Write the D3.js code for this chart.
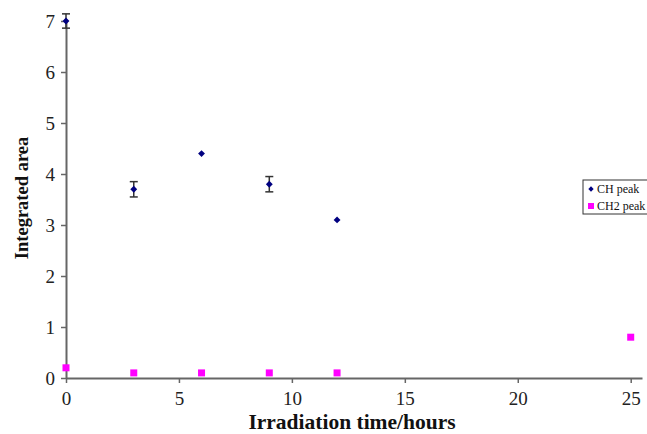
<!DOCTYPE html>
<html>
<head>
<meta charset="utf-8">
<script src="https://cdn.jsdelivr.net/npm/d3@7"></script>
<style>
  body { margin: 0; background: #fff; }
</style>
</head>
<body>
<div id="chart"></div>
<script>
const hours = [0, 3, 6, 9, 12]
const chValues = [7.0, 3.7, 4.4, 3.8, 3.1]
const chErrors = [0.14, 0.15, 0, 0.15, 0]
const ch2Hours = [0, 3, 6, 9, 12, 25]
const ch2Values = [0.2, 0.1, 0.1, 0.1, 0.1, 0.8]
const xTicks = [0, 5, 10, 15, 20, 25]
const yTicks = [0, 1, 2, 3, 4, 5, 6, 7]

const width = 647, height = 434
const SERIF = '"Liberation Serif", "Times New Roman", Times, serif'

const svg = d3.select('#chart').append('svg')
  .attr('width', width).attr('height', height)

const x = d3.scaleLinear().domain([0, 25.5]).range([66, 642])
const y = d3.scaleLinear().domain([0, 7]).range([378, 21])

const axisColor = '#666'

// axes
const xAxis = svg.append('g')
  .attr('transform', `translate(0,${y(0)})`)
  .call(d3.axisBottom(x).tickValues(xTicks).tickFormat(d3.format('d'))
    .tickSize(5).tickPadding(9).tickSizeOuter(0))
xAxis.select('.domain').attr('stroke', axisColor).attr('stroke-width', 2)
xAxis.selectAll('.tick line').attr('stroke', axisColor).attr('stroke-width', 1.5)

const yAxis = svg.append('g')
  .attr('transform', `translate(${x(0)},0)`)
  .call(d3.axisLeft(y).tickValues(yTicks).tickFormat(d3.format('d'))
    .tickSize(5).tickPadding(6).tickSizeOuter(0))
yAxis.select('.domain').attr('stroke', axisColor).attr('stroke-width', 2)
yAxis.selectAll('.tick line').attr('stroke', axisColor).attr('stroke-width', 1.5)

svg.selectAll('.tick text')
  .attr('fill', '#222')
  .style('font-family', SERIF)
  .style('font-size', '19px')

// axis titles
svg.append('text')
  .attr('x', 352).attr('y', 429)
  .attr('text-anchor', 'middle')
  .style('font-family', SERIF).style('font-size', '21.5px').style('font-weight', 'bold')
  .attr('fill', '#111')
  .text('Irradiation time/hours')

svg.append('text')
  .attr('transform', 'translate(28,198) rotate(-90)')
  .attr('text-anchor', 'middle')
  .style('font-family', SERIF).style('font-size', '18.5px').style('font-weight', 'bold')
  .attr('fill', '#111')
  .text('Integrated area')

// error bars
const chData = hours.map((h, i) => ({ h, v: chValues[i], e: chErrors[i] }))
const errs = svg.append('g').selectAll('g')
  .data(chData.filter(d => d.e > 0))
  .join('g')
  .attr('stroke', '#333').attr('stroke-width', 1.5)
errs.append('line')
  .attr('x1', d => x(d.h)).attr('x2', d => x(d.h))
  .attr('y1', d => y(d.v - d.e)).attr('y2', d => y(d.v + d.e))
errs.append('line')
  .attr('x1', d => x(d.h) - 4).attr('x2', d => x(d.h) + 4)
  .attr('y1', d => y(d.v + d.e)).attr('y2', d => y(d.v + d.e))
errs.append('line')
  .attr('x1', d => x(d.h) - 4).attr('x2', d => x(d.h) + 4)
  .attr('y1', d => y(d.v - d.e)).attr('y2', d => y(d.v - d.e))

// CH peak diamonds
const diamond = d3.symbol().type(d3.symbolDiamond2).size(30)
svg.append('g').selectAll('path')
  .data(chData)
  .join('path')
  .attr('d', diamond)
  .attr('transform', d => `translate(${x(d.h)},${y(d.v)})`)
  .attr('fill', '#000080')

// CH2 peak squares
const ch2Data = ch2Hours.map((h, i) => ({ h, v: ch2Values[i] }))
svg.append('g').selectAll('rect')
  .data(ch2Data)
  .join('rect')
  .attr('x', d => x(d.h) - 3.5).attr('y', d => y(d.v) - 3.5)
  .attr('width', 7).attr('height', 7)
  .attr('fill', '#ff00ff')

// legend
const legend = svg.append('g').attr('transform', 'translate(583,180)')
legend.append('rect')
  .attr('width', 70).attr('height', 34)
  .attr('fill', '#fff').attr('stroke', '#333').attr('stroke-width', 1)
legend.append('path')
  .attr('d', d3.symbol().type(d3.symbolDiamond2).size(18))
  .attr('transform', 'translate(8,9)')
  .attr('fill', '#000080')
legend.append('text').attr('x', 14).attr('y', 13)
  .style('font-family', SERIF).style('font-size', '12px')
  .attr('fill', '#111').text('CH peak')
legend.append('rect')
  .attr('x', 5).attr('y', 23).attr('width', 6).attr('height', 6)
  .attr('fill', '#ff00ff')
legend.append('text').attr('x', 14).attr('y', 30)
  .style('font-family', SERIF).style('font-size', '12px')
  .attr('fill', '#111').text('CH2 peak')
</script>
</body>
</html>
